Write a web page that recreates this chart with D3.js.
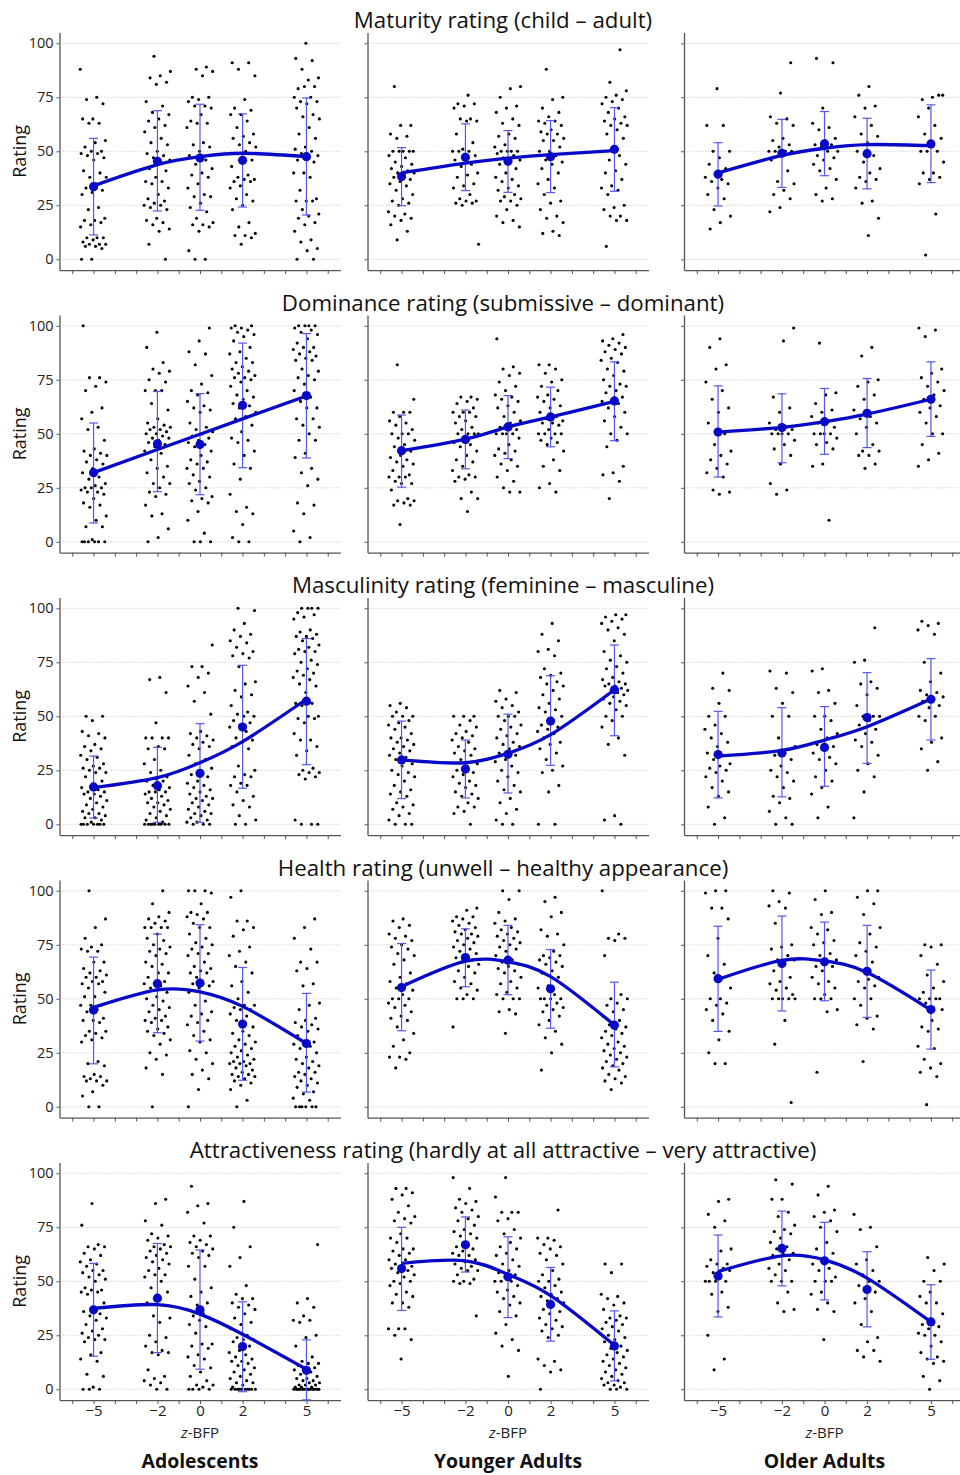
<!doctype html>
<html>
<head>
<meta charset="utf-8">
<script src="https://d3js.org/d3.v7.min.js"></script>
<style>
  body { margin: 0; background: #fff; }
  svg { display: block; font-family: "Open Sans", "Noto Sans", sans-serif; }
  .axis path, .axis line { stroke: #555; }
  .axis text { fill: #222; }
</style>
</head>
<body>
<svg width="960" height="1475"></svg>
<script>

// ---- data ----
var zLevels = [-5, -2, 0, 2, 5];
var ageGroups = ["Adolescents", "Younger Adults", "Older Adults"];
var ratingTitles = [
  "Maturity rating (child \u2013 adult)",
  "Dominance rating (submissive \u2013 dominant)",
  "Masculinity rating (feminine \u2013 masculine)",
  "Health rating (unwell \u2013 healthy appearance)",
  "Attractiveness rating (hardly at all attractive \u2013 very attractive)"
];
var yTickValues = [0, 25, 50, 75, 100];
var xTickLabels = [-5, -2, 0, 2, 5];

// individual ratings, per age group, per z-BFP level
var maturityPts = [
  [[88,75,74,72,65,65,63,63,55,54,52,50,50,49,49,48,47,46,41,40,38,38,35,33,32,31,30,24,23,19,18,18,17,16,15,10,10,10,9,8,7,7,7,6,6,5,0,0],
   [94,87,85,84,82,81,73,71,68,67,65,64,62,61,59,56,54,53,50,49,48,47,46,45,42,41,38,36,36,35,33,30,28,27,26,25,25,24,23,19,18,17,16,14,13,7,0],
   [89,88,87,85,75,75,74,73,71,71,70,67,64,63,63,61,54,53,52,50,48,46,44,42,40,39,38,35,33,30,29,29,26,24,22,19,17,16,16,15,13,4,0,0],
   [91,91,88,85,74,70,69,67,67,64,61,58,57,56,54,53,52,50,49,46,45,43,39,38,37,37,36,36,34,33,30,28,27,25,23,17,15,12,11,11,10,7],
   [100,93,92,88,84,83,79,80,80,75,75,73,73,72,70,67,66,65,61,58,56,52,51,50,49,48,47,46,45,40,40,38,32,28,27,27,27,23,21,20,19,17,16,13,9,8,5,4,0,0]],
  [[80,62,62,58,57,56,50,50,50,50,50,48,47,45,44,43,42,41,40,40,39,38,37,36,35,34,32,30,28,27,26,25,22,21,20,19,18,16,13,9],
   [76,72,72,71,70,65,65,64,64,58,54,51,50,50,50,48,47,46,44,43,40,39,38,35,34,33,30,28,27,27,26,26,25,7],
   [80,79,75,71,70,68,65,63,62,58,57,56,53,52,50,50,50,50,49,48,47,46,45,44,42,40,38,37,36,34,33,32,30,29,28,27,27,25,23,20,18,17,15],
   [88,75,74,70,68,66,64,64,63,62,60,59,58,58,56,55,55,52,50,50,48,46,45,44,42,40,37,35,33,30,27,26,23,20,19,17,13,12,11],
   [97,82,78,76,75,74,73,72,70,68,66,65,64,63,62,62,60,58,56,50,50,48,46,44,41,40,37,34,33,32,30,25,24,23,20,20,18,18,6]],
  [[79,62,62,50,50,47,44,42,40,38,37,36,35,33,30,28,23,20,17,14],
   [91,77,66,65,63,62,56,55,53,52,50,50,50,50,49,46,41,36,35,32,30,28,24,22],
   [93,91,70,63,61,60,56,55,53,53,52,50,50,48,47,46,44,42,41,37,33,30,28,27],
   [80,76,71,70,66,62,58,57,54,50,48,45,42,40,38,37,36,33,27,26,19,11],
   [76,75,74,76,70,66,62,58,56,54,50,50,50,45,40,40,38,37,35,21,2]]
];
var maturityMean = [[33.6,45.4,46.9,45.8,47.5],[38.3,47.2,45.4,47.5,50.9],[39.4,49.1,53.5,48.9,53.4]];
var maturityLo   = [[11.3,22.4,22.7,24.2,20.5],[24.8,31.8,31.0,30.9,31.5],[24.7,33.3,38.7,32.6,35.5]];
var maturityHi   = [[56.0,68.8,71.8,67.3,74.7],[51.7,62.7,59.6,64.2,70.2],[54.0,64.8,68.4,65.3,71.5]];
var maturityFit  = [[34,43.8,47.5,49.1,47.5],[40,44.5,46.8,48.5,50.3],[40,48.1,51.4,53.1,52.6]];

var dominancePts = [
  [[100,76,76,74,72,70,62,60,57,53,52,47,43,42,41,40,40,38,37,36,34,32,30,29,27,26,25,25,25,24,23,23,22,20,18,17,16,12,10,7,7,1,0,0,0,0,0,0],
   [97,90,83,80,79,78,75,74,70,70,70,64,61,57,55,54,53,53,52,52,51,50,50,49,48,48,47,46,45,44,42,41,38,35,34,32,30,27,27,25,23,22,21,17,13,12,6,2,0],
   [99,93,88,87,82,77,73,70,69,68,65,63,62,61,60,55,53,52,51,50,49,48,47,46,45,44,42,40,38,37,36,34,34,31,30,28,27,25,24,21,20,19,18,14,10,4,0,0,0],
   [100,100,99,99,98,97,96,95,93,90,88,87,85,83,83,81,80,79,78,77,76,76,75,74,72,70,68,67,66,64,63,62,60,58,57,54,51,48,47,46,42,40,36,34,29,22,16,14,13,8,2,0,0],
   [100,100,100,100,99,98,97,96,94,92,90,90,89,88,87,86,85,84,84,80,79,77,76,75,73,70,67,65,62,62,57,57,54,53,50,47,47,41,39,34,32,29,26,18,17,13,5,2,0]],
  [[82,66,60,60,60,58,56,55,54,52,50,50,50,48,47,45,44,42,40,39,38,37,36,35,33,31,30,30,30,28,27,27,24,20,19,19,18,17,17,8],
   [67,67,66,65,64,62,60,60,60,58,58,56,55,53,52,50,50,50,50,48,46,45,44,42,40,38,37,35,33,31,30,30,29,28,23,20,20,14],
   [94,81,80,78,77,74,72,70,68,67,66,65,63,62,60,58,56,55,53,52,50,50,50,50,48,45,43,42,41,40,38,36,35,33,30,28,25,23,23],
   [82,82,80,78,75,74,72,70,68,67,66,65,63,62,60,58,57,56,55,55,54,52,50,50,50,50,48,47,46,45,42,38,35,33,27,25,23],
   [96,94,93,92,91,90,89,88,87,85,84,83,80,79,77,75,73,72,72,70,69,67,66,65,64,62,60,58,56,53,50,50,47,44,35,32,31,28,20]],
  [[94,90,82,80,74,70,66,62,60,55,50,45,42,40,38,36,34,32,30,24,23,22],
   [99,93,67,62,60,55,53,52,52,50,50,50,50,47,45,43,40,36,27,24,22],
   [92,69,68,64,61,60,58,56,55,53,50,50,50,50,48,46,45,43,36,35,10],
   [90,86,75,74,72,68,66,61,58,57,55,53,50,45,42,42,40,40,36,34],
   [99,98,95,80,78,76,74,72,70,68,66,63,62,60,58,55,50,50,45,41,38,35]]
];
var dominanceMean = [[32.0,45.4,45.1,63.2,67.7],[42.2,47.4,53.2,57.8,65.2],[50.8,52.9,55.6,59.5,66.0]];
var dominanceLo   = [[8.7,23.2,21.8,34.3,38.8],[25.3,33.8,38.5,44.0,46.8],[30.0,36.6,40.5,43.6,48.8]];
var dominanceHi   = [[55.0,69.6,68.6,92.0,96.4],[58.7,61.0,67.7,71.6,83.3],[72.2,68.5,71.0,75.6,83.3]];
var dominanceFit  = [[32,42.7,49.8,56.9,67.5],[42.2,47.5,53.2,57.8,65],[50.8,53.0,55.6,59.1,66]];

var masculinityPts = [
  [[50,50,48,43,42,41,40,37,36,35,34,32,31,30,28,27,26,26,25,24,24,22,20,18,17,16,15,15,14,14,13,12,11,10,9,8,7,6,5,5,4,3,3,2,1,0,0,0,0,0,0,0],
   [68,67,61,47,40,40,40,40,36,35,35,30,28,25,24,22,21,20,20,18,17,16,15,15,15,14,13,12,11,10,10,9,8,7,6,5,4,3,2,1,0,0,0,0,0,0,0,0,0],
   [83,73,73,70,68,64,61,57,51,43,42,41,40,39,38,37,36,35,32,30,28,26,24,23,22,20,19,18,17,16,15,14,13,12,12,11,10,9,8,7,6,5,5,4,3,2,1,1,0,0,0],
   [100,99,93,90,88,87,85,84,82,80,79,78,77,73,66,65,62,60,59,55,52,51,50,50,48,47,46,45,43,40,39,38,36,35,27,25,23,22,22,19,18,18,15,13,11,9,8,4,2,0,0],
   [100,100,100,100,98,97,96,95,90,89,88,87,87,86,85,83,82,81,80,80,79,76,75,74,72,71,70,69,68,67,65,64,61,56,56,55,50,50,49,49,47,42,39,39,36,34,32,26,25,24,24,23,22,21,2,0,0,0]],
  [[56,55,54,52,50,50,50,48,47,46,45,44,42,40,40,39,38,37,36,35,34,33,32,31,30,28,27,25,24,23,22,20,18,16,15,14,13,10,9,8,7,5,4,2,0,0,0],
   [50,50,50,48,46,45,43,42,41,40,39,38,36,35,34,33,32,30,28,27,25,24,23,22,20,19,18,17,15,14,13,12,10,8,8,6,5,0],
   [62,61,58,57,55,54,52,50,50,50,48,46,45,44,42,41,40,38,37,36,35,33,32,30,29,27,25,24,22,20,18,16,15,12,10,7,5,2,0,0],
   [93,88,85,81,80,78,72,70,69,68,66,65,64,62,60,58,56,54,53,52,50,48,46,45,44,43,42,40,38,37,35,33,30,27,25,24,18,15,0,0],
   [97,97,96,95,94,93,91,90,88,85,80,78,76,75,73,72,70,68,67,66,65,65,64,64,63,62,62,61,60,60,59,58,57,56,55,53,50,50,48,45,40,37,32,4,2,0]],
  [[70,63,62,56,50,50,46,44,42,40,38,36,33,32,30,28,27,26,25,24,22,20,17,15,13,8,3,0],
   [71,70,63,61,56,50,50,40,36,33,32,30,27,25,24,22,20,17,13,12,10,6,3,0,0],
   [72,71,62,61,56,50,50,48,44,42,40,37,36,35,33,31,30,28,25,22,20,17,14,8,3],
   [91,76,75,66,65,63,60,55,50,50,50,48,46,44,42,39,38,36,32,28,25,22,15,3],
   [94,93,92,90,88,75,70,66,62,61,60,59,58,57,55,54,50,50,48,40,38,35,29,25]]
];
var masculinityMean = [[17.3,17.9,23.6,45.0,57.0],[29.8,25.6,32.4,47.8,62.3],[32.3,33.0,35.6,49.4,57.9]];
var masculinityLo   = [[2.9,0.9,0.9,16.7,27.6],[11.9,12.2,14.5,27.3,41.0],[12.2,12.7,17.6,28.2,39.0]];
var masculinityHi   = [[31.6,35.6,46.6,73.6,86.0],[47.8,39.0,51.0,68.8,83.0],[52.3,54.0,54.5,70.2,76.7]];
var masculinityFit  = [[17,21.6,28.5,38.3,57.9],[29.8,28.5,32.9,41.5,62.3],[31.6,34.2,39,45.2,58]];

var healthPts = [
  [[100,87,83,78,75,74,73,72,72,67,67,64,63,62,61,60,60,58,58,57,57,55,53,51,51,47,47,47,45,44,41,40,40,39,35,35,34,33,32,31,30,21,20,19,15,14,14,13,12,12,12,10,7,5,0,0],
   [100,94,90,88,87,86,85,83,83,83,83,80,78,77,75,74,73,72,71,70,67,66,65,62,62,60,58,57,57,56,55,53,51,50,49,47,46,45,44,42,41,40,40,39,37,36,35,34,33,31,29,25,24,22,18,15,0],
   [100,100,100,99,94,90,90,89,88,87,85,83,83,80,78,76,75,74,73,71,71,70,67,65,64,63,62,62,60,58,57,57,56,55,53,49,47,44,43,42,40,39,38,35,33,31,30,26,25,22,20,17,15,13,8,0],
   [100,97,86,86,83,82,79,74,72,70,67,65,62,58,56,53,50,47,47,46,45,45,43,42,40,37,35,34,33,31,30,29,28,27,26,25,24,23,22,21,21,20,20,20,19,18,17,16,15,15,14,14,13,12,11,10,8,3,0],
   [87,83,78,73,67,67,64,63,57,56,48,47,45,41,40,39,38,37,36,35,33,30,30,29,28,27,25,23,22,21,20,19,18,16,16,15,14,13,12,11,10,9,7,6,4,3,0,0,0,0,0,0]],
  [[87,86,84,83,80,79,78,77,75,74,73,71,70,68,66,62,60,58,57,55,54,52,50,50,50,48,47,46,44,42,41,40,37,34,31,28,25,23,23,22,18],
   [92,91,88,88,87,86,85,84,83,82,81,80,80,79,78,77,76,75,74,73,72,71,70,69,68,67,66,65,63,62,60,58,57,55,54,52,50,50,50,37],
   [100,100,96,90,87,86,85,83,82,81,80,79,78,77,76,75,74,73,72,70,68,67,66,65,64,63,62,60,58,57,55,53,52,50,50,50,45,44,43,34],
   [97,95,90,88,82,80,79,75,72,70,70,69,68,67,66,65,63,62,60,56,55,52,50,50,50,50,48,47,46,45,44,42,40,38,35,32,29,25,17],
   [100,80,78,78,77,70,52,50,50,48,47,45,44,42,40,38,37,36,35,34,33,32,30,29,28,27,26,25,24,23,22,21,20,19,18,17,15,14,13,12,11,8]],
  [[100,100,99,92,92,87,78,70,66,62,55,50,50,48,47,45,43,40,35,31,25,20,20],
   [100,99,95,93,92,85,75,74,73,70,68,68,67,63,60,58,57,55,54,52,50,50,50,50,50,40,29,2],
   [100,96,90,89,83,82,80,77,76,75,71,70,68,67,65,65,63,60,58,57,55,52,50,50,50,45,44,16],
   [100,100,97,94,89,83,80,76,74,72,70,67,63,60,59,58,56,55,50,50,47,42,41,38,36,21],
   [75,75,74,70,66,61,58,55,53,50,50,50,50,48,45,40,37,36,35,28,27,22,20,18,16,14,1]]
];
var healthMean = [[44.8,57.0,57.3,38.3,29.3],[55.2,69.1,67.9,54.6,37.8],[59.3,66.4,67.1,62.7,45.0]];
var healthLo   = [[19.9,34.3,30.4,12.3,6.8],[35.2,55.6,51.9,36.4,18.5],[34.9,44.4,49.1,41.4,26.7]];
var healthHi   = [[69.3,80.0,84.3,64.5,52.5],[75.6,82.4,84.0,72.8,57.7],[83.6,88.3,85.5,84.0,63.3]];
var healthFit  = [[46,54.1,53.2,46.5,29.3],[55.6,67.4,67.1,60.3,37.8],[59,67.8,67.5,62.2,44.8]];

var attractPts = [
  [[86,76,67,66,66,65,63,62,60,59,58,57,55,55,54,53,52,51,50,47,46,46,45,45,44,40,38,36,35,34,33,32,30,28,27,26,25,24,23,23,22,17,16,14,13,7,6,1,0,0,0],
   [88,86,78,76,72,71,70,69,67,66,66,65,64,63,62,61,60,59,58,56,55,53,53,52,50,47,45,42,40,39,34,33,31,25,24,22,20,18,17,17,16,9,6,5,4,3,2,0,0],
   [94,86,85,82,77,71,71,69,68,67,66,65,64,63,62,61,57,57,51,47,45,43,40,39,37,35,34,33,32,30,29,26,21,21,20,19,16,15,14,11,10,8,6,4,2,2,1,0,0,0,0],
   [87,75,66,61,57,48,44,42,42,40,39,38,37,35,33,31,30,28,25,24,23,23,22,20,18,17,16,15,14,13,13,12,11,10,9,8,7,6,5,4,3,3,2,1,0,0,0,0,0,0,0,0,0,0],
   [67,42,40,38,34,32,32,31,25,24,20,15,13,12,12,11,10,9,9,8,7,6,5,5,4,4,3,3,2,2,2,1,1,1,0,0,0,0,0,0,0,0,0,0,0,0,0,0,0,0]],
  [[93,93,91,90,88,85,82,80,79,78,77,72,70,70,68,65,65,64,63,62,60,60,58,57,57,56,55,54,53,52,50,50,49,48,45,44,43,40,40,38,28,28,28,25,23,14],
   [98,93,88,87,86,84,83,82,80,79,78,76,74,73,72,71,70,68,66,65,64,63,62,62,60,59,58,57,56,55,55,53,51,50,50,49,49,34],
   [98,89,82,82,82,79,78,74,72,70,68,66,65,63,62,60,58,57,55,54,53,52,50,50,50,48,46,45,43,42,40,39,36,34,30,26,23,20,18,6],
   [83,70,70,69,67,66,65,63,62,60,58,55,53,51,50,50,48,47,45,44,43,42,41,40,39,37,36,35,33,32,30,29,28,27,25,24,14,13,11,9,8,0],
   [58,58,54,44,43,42,40,39,37,34,33,33,32,31,30,29,28,27,25,24,23,22,20,19,18,17,16,15,14,13,12,11,10,9,8,7,6,5,4,3,3,2,2,1,0,0,0]],
  [[88,87,81,78,75,65,64,60,58,58,57,56,54,55,52,50,50,50,50,45,44,38,36,25,14,9],
   [97,95,88,88,82,80,76,74,73,72,70,68,66,65,63,63,62,60,58,56,55,53,50,50,50,45,40,37,36],
   [94,90,83,82,80,78,75,73,68,65,63,60,58,56,55,52,50,50,50,45,44,40,37,36,23],
   [81,75,74,66,60,58,55,53,50,50,48,45,42,40,36,30,24,22,18,18,15,13],
   [61,58,55,50,50,45,43,40,40,35,32,30,29,28,26,25,25,22,20,17,15,14,13,12,6,4,0]]
];
var attractMean = [[36.8,42.2,36.8,19.8,8.8],[55.9,66.9,52.1,39.3,20.1],[52.5,65.2,59.5,46.2,31.2]];
var attractLo   = [[15.3,17.0,9.3,-1.1,-4.9],[36.5,54.3,33.2,22.3,3.9],[33.5,47.9,41.4,28.9,13.9]];
var attractHi   = [[58.3,67.5,64.5,40.5,22.9],[75.0,79.8,70.6,56.4,36.3],[71.4,82.5,77.3,63.7,48.4]];
var attractFit  = [[37.5,39.2,34.8,25.5,9.3],[58.3,59.5,53.2,43.4,20.4],[54.5,61.8,59.9,51.5,31.2]];

// ---- assemble panels from the arrays above ----
var rows = [
  {title: ratingTitles[0], pts: maturityPts, mean: maturityMean, lo: maturityLo, hi: maturityHi, fit: maturityFit},
  {title: ratingTitles[1], pts: dominancePts, mean: dominanceMean, lo: dominanceLo, hi: dominanceHi, fit: dominanceFit},
  {title: ratingTitles[2], pts: masculinityPts, mean: masculinityMean, lo: masculinityLo, hi: masculinityHi, fit: masculinityFit},
  {title: ratingTitles[3], pts: healthPts, mean: healthMean, lo: healthLo, hi: healthHi, fit: healthFit},
  {title: ratingTitles[4], pts: attractPts, mean: attractMean, lo: attractLo, hi: attractHi, fit: attractFit}
];

var svg = d3.select("svg");
var colLeft = [59.5, 367.5, 684];
var panelW = 281;
var rowStep = 282.5;
var meanBlue = "#0808c8";
var barBlue = "#5656ee";

var x = d3.scaleLinear().domain([-6.6, 6.6]).range([0, panelW]);
var y = d3.scaleLinear().domain([-5, 105]).range([270.1, 32.5]);

rows.forEach(function(row, r) {
  var ty = r * rowStep;

  svg.append("text")
     .attr("class", "row-title")
     .attr("x", 503)
     .attr("y", ty + 28)
     .attr("text-anchor", "middle")
     .attr("font-size", "21px")
     .attr("fill", "#111")
     .text(row.title);

  ageGroups.forEach(function(grp, c) {
    var g = svg.append("g")
               .attr("transform", "translate(" + colLeft[c] + "," + ty + ")");

    // dotted grid
    g.selectAll(".grid")
     .data(yTickValues)
     .enter()
     .append("line")
     .attr("x1", 0).attr("x2", panelW)
     .attr("y1", function(d) { return y(d); })
     .attr("y2", function(d) { return y(d); })
     .attr("stroke", "#d4d4d4")
     .attr("stroke-width", 1)
     .attr("stroke-dasharray", "1.5,1.5");

    // left axis
    g.append("g")
     .attr("class", "axis")
     .call(d3.axisLeft(y).tickValues(yTickValues).tickSize(3).tickSizeOuter(0)
       .tickFormat(function(d) { return c === 0 ? d : ""; }))
     .call(function(a) {
       a.selectAll("text").attr("font-size", "14.5px").attr("font-family", "Open Sans");
       a.select(".domain").attr("stroke-width", 1.3);
     });

    // bottom axis
    g.append("g")
     .attr("class", "axis")
     .attr("transform", "translate(0," + y(-5) + ")")
     .call(d3.axisBottom(x).tickValues(d3.range(-6, 7)).tickSize(4).tickSizeOuter(0)
       .tickFormat(function(d) { return (r === 4 && xTickLabels.indexOf(d) >= 0) ? d3.format("d")(d).replace("-", "\u2212") : ""; }))
     .call(function(a) {
       a.selectAll("text").attr("font-size", "15px").attr("font-family", "Open Sans").attr("dy", "0.62em");
       a.select(".domain").attr("stroke-width", 1.3);
     });

    // jittered individual ratings
    zLevels.forEach(function(z, k) {
      var vals = row.pts[c][k];
      g.selectAll(".pt" + k)
       .data(vals)
       .enter()
       .append("circle")
       .attr("cx", function(d, i) {
         var u = ((i * 0.6180339 + k * 0.37 + r * 0.11 + c * 0.23) % 1) - 0.5;
         return x(z + u * 1.25);
       })
       .attr("cy", function(d) { return y(d); })
       .attr("r", 1.55)
       .attr("fill", "#000");
    });

    // error bars
    var eb = g.selectAll(".eb")
              .data(zLevels)
              .enter()
              .append("g");
    eb.append("line")
      .attr("x1", function(d) { return x(d); })
      .attr("x2", function(d) { return x(d); })
      .attr("y1", function(d, k) { return y(row.lo[c][k]); })
      .attr("y2", function(d, k) { return y(row.hi[c][k]); })
      .attr("stroke", barBlue).attr("stroke-width", 1.2);
    [row.lo[c], row.hi[c]].forEach(function(arr) {
      eb.append("line")
        .attr("x1", function(d) { return x(d) - 4.5; })
        .attr("x2", function(d) { return x(d) + 4.5; })
        .attr("y1", function(d, k) { return y(arr[k]); })
        .attr("y2", function(d, k) { return y(arr[k]); })
        .attr("stroke", barBlue).attr("stroke-width", 1.2);
    });

    // fitted curve
    var line = d3.line()
                 .x(function(d) { return x(d); })
                 .y(function(d, k) { return y(row.fit[c][k]); })
                 .curve(d3.curveNatural);
    g.append("path")
     .datum(zLevels)
     .attr("d", line)
     .attr("fill", "none")
     .attr("stroke", meanBlue)
     .attr("stroke-width", 3.3);

    // means
    g.selectAll(".mean")
     .data(zLevels)
     .enter()
     .append("circle")
     .attr("cx", function(d) { return x(d); })
     .attr("cy", function(d, k) { return y(row.mean[c][k]); })
     .attr("r", 4.6)
     .attr("fill", meanBlue);

    if (c === 0) {
      g.append("text")
       .attr("transform", "translate(" + (-34) + "," + ((y(0) + y(100)) / 2) + ") rotate(-90)")
       .attr("text-anchor", "middle")
       .attr("font-size", "18px")
       .attr("fill", "#111")
       .text("Rating");
    }

    if (r === 4) {
      var lab = g.append("text")
                 .attr("x", x(0))
                 .attr("y", y(-5) + 38)
                 .attr("text-anchor", "middle")
                 .attr("font-size", "15px")
                 .attr("fill", "#222");
      lab.append("tspan").attr("font-style", "italic").text("z");
      lab.append("tspan").text("-BFP");

      g.append("text")
       .attr("class", "group-label")
       .attr("x", x(0))
       .attr("y", y(-5) + 68)
       .attr("text-anchor", "middle")
       .attr("font-size", "20px")
       .attr("font-weight", "bold")
       .attr("fill", "#111")
       .text(grp);
    }
  });
});

// match text widths to the figure
var titleEl = svg.selectAll(".row-title").nodes();
var kT = 627 / titleEl[4].getComputedTextLength();
svg.selectAll(".row-title").attr("font-size", (21 * kT) + "px");

var groupEl = svg.selectAll(".group-label").nodes();
var kG = 117 / groupEl[0].getComputedTextLength();
svg.selectAll(".group-label").attr("font-size", (20 * kG) + "px");

</script>
</body>
</html>
